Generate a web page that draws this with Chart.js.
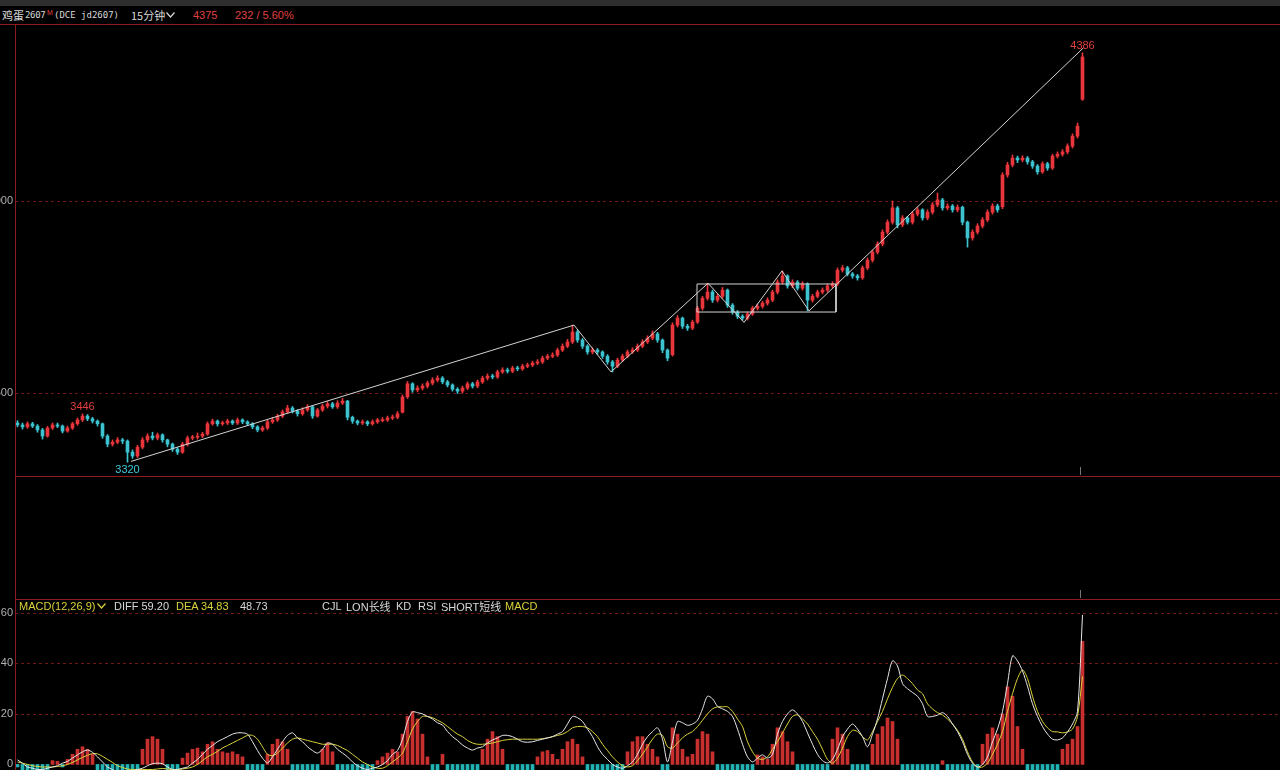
<!DOCTYPE html>
<html><head><meta charset="utf-8">
<script src="https://cdn.jsdelivr.net/npm/chart.js@4.4.1/dist/chart.umd.min.js"></script>
<style>
html,body{margin:0;padding:0;background:#000;width:1280px;height:770px;overflow:hidden;font-family:'Liberation Sans','Noto Sans CJK SC',sans-serif;}
.t{position:absolute;font-size:11px;line-height:12px;white-space:nowrap;color:#d8d8d8}
.ln{position:absolute;background:#8e1c1c}
canvas{position:absolute;left:0}
</style></head><body>
<div style="position:absolute;left:0;top:0;width:1280px;height:6px;background:#2e2e2e"></div>
<span class="t" style="left:2px;top:9px;font-family:'Noto Sans CJK SC';font-size:11px">鸡蛋</span>
<span class="t" style="left:25px;top:9px;font-family:'DejaVu Sans Mono';font-size:9px;letter-spacing:-0.3px">2607</span>
<span class="t" style="left:47px;top:7px;font-size:7px;color:#e04040">M</span>
<span class="t" style="left:54px;top:9px;font-family:'DejaVu Sans Mono';font-size:9px">(DCE jd2607)</span>
<span class="t" style="left:131px;top:9px;font-family:'Noto Sans CJK SC'">15分钟</span>
<svg style="position:absolute;left:166px;top:12px" width="9" height="6"><polyline points="0.5,0.5 4.5,5 8.5,0.5" fill="none" stroke="#d8d8d8" stroke-width="1.2"/></svg>
<span class="t" style="left:193px;top:9px;color:#e04040">4375</span>
<span class="t" style="left:235px;top:9px;color:#e04040">232 / 5.60%</span>

<canvas id="main" width="1280" height="452" style="top:24px"></canvas>
<canvas id="macd" width="1280" height="171" style="top:599px"></canvas>

<div class="ln" style="left:0;top:24px;width:1280px;height:1px"></div>
<div class="ln" style="left:15px;top:24px;width:1px;height:746px"></div>
<div class="ln" style="left:15px;top:476px;width:1265px;height:1px"></div>
<div class="ln" style="left:15px;top:599px;width:1265px;height:1px"></div>
<div style="position:absolute;left:1080px;top:467px;width:1px;height:8px;background:#777"></div>
<div style="position:absolute;left:1080px;top:590px;width:1px;height:8px;background:#777"></div>

<span class="t" style="left:19px;top:600px;color:#d8d23c">MACD(12,26,9)</span>
<svg style="position:absolute;left:97px;top:603px" width="9" height="6"><polyline points="0.5,0.5 4.5,5 8.5,0.5" fill="none" stroke="#d8d23c" stroke-width="1.2"/></svg>
<span class="t" style="left:114px;top:600px">DIFF 59.20</span>
<span class="t" style="left:176px;top:600px;color:#d8d23c">DEA 34.83</span>
<span class="t" style="left:240px;top:600px">48.73</span>
<span class="t" style="left:322px;top:600px">CJL</span>
<span class="t" style="left:346px;top:600px">LON<span style="font-family:'Noto Sans CJK SC'">长线</span></span>
<span class="t" style="left:396px;top:600px">KD</span>
<span class="t" style="left:418px;top:600px">RSI</span>
<span class="t" style="left:441px;top:600px">SHORT<span style="font-family:'Noto Sans CJK SC'">短线</span></span>
<span class="t" style="left:505px;top:600px;color:#d8d23c">MACD</span>

<script>
// ---------- data ----------
const OPEN = [3422,3417,3412,3420,3414,3404,3388,3409,3417,3414,
3401,3409,3420,3430,3440,3433,3427,3420,3388,3367,
3372,3378,3375,3346,3336,3359,3378,3388,3383,3391,
3378,3367,3354,3346,3367,3383,3385,3388,3393,3420,
3427,3420,3422,3427,3422,3430,3425,3420,3412,3404,
3409,3425,3430,3440,3451,3461,3453,3446,3456,3464,
3440,3456,3466,3472,3464,3474,3479,3437,3427,3422,
3425,3420,3425,3428,3430,3435,3437,3450,3490,3524,
3508,3513,3518,3526,3534,3539,3529,3521,3510,3505,
3513,3524,3518,3529,3539,3544,3542,3555,3560,3557,
3565,3563,3570,3573,3578,3581,3591,3596,3599,3612,
3622,3633,3659,3638,3622,3607,3612,3607,3596,3581,
3570,3586,3596,3607,3612,3622,3633,3643,3654,3638,
3612,3600,3677,3695,3674,3669,3685,3721,3747,3763,
3742,3752,3768,3729,3711,3700,3695,3706,3721,3726,
3734,3742,3763,3789,3805,3779,3789,3773,3784,3742,
3752,3763,3768,3779,3784,3820,3826,3810,3805,3800,
3826,3846,3867,3888,3919,3945,3982,3938,3956,3945,
3966,3977,3956,3971,3990,4003,3982,3987,3977,3984,
3945,3904,3919,3935,3951,3971,3987,3985,4068,4094,
4112,4107,4112,4102,4091,4076,4097,4086,4117,4122,
4128,4143,4169,4265];
const HIGH = [3428,3422,3425,3424,3418,3408,3413,3422,3422,3417,
3414,3424,3435,3446,3444,3437,3430,3422,3392,3378,
3384,3382,3378,3352,3364,3384,3394,3398,3396,3394,
3380,3370,3358,3372,3388,3390,3396,3398,3425,3432,
3430,3427,3432,3430,3435,3433,3428,3423,3415,3414,
3429,3436,3445,3456,3468,3465,3457,3462,3470,3467,
3460,3471,3478,3476,3480,3486,3481,3440,3430,3430,
3428,3430,3434,3436,3440,3443,3452,3495,3530,3527,
3519,3524,3531,3540,3545,3543,3533,3524,3514,3518,
3529,3528,3534,3544,3550,3549,3560,3566,3565,3570,
3570,3575,3578,3583,3587,3596,3601,3605,3617,3628,
3640,3677,3664,3642,3626,3618,3616,3610,3600,3585,
3591,3601,3612,3618,3628,3639,3649,3662,3658,3641,
3615,3683,3702,3698,3679,3690,3726,3752,3786,3768,
3758,3775,3771,3733,3715,3704,3711,3726,3732,3739,
3748,3768,3795,3818,3808,3795,3793,3790,3787,3757,
3768,3774,3784,3790,3826,3832,3830,3814,3809,3831,
3852,3872,3894,3925,3951,4000,3986,3962,3960,3972,
3983,3980,3977,3996,4021,4007,3993,3991,3990,3987,
3948,3925,3941,3957,3977,3993,3992,4074,4101,4120,
4117,4118,4116,4106,4095,4102,4101,4122,4128,4134,
4149,4175,4203,4386];
const LOW = [3412,3406,3408,3410,3398,3380,3385,3405,3410,3396,
3398,3405,3416,3426,3428,3422,3414,3382,3360,3362,
3368,3368,3320,3330,3332,3355,3372,3378,3378,3372,
3360,3348,3340,3343,3362,3378,3380,3384,3390,3416,
3414,3416,3418,3418,3418,3420,3415,3407,3399,3400,
3405,3421,3426,3436,3447,3448,3440,3442,3452,3434,
3437,3452,3461,3460,3460,3470,3430,3421,3417,3418,
3415,3416,3421,3425,3426,3431,3433,3448,3486,3502,
3503,3508,3513,3521,3529,3524,3516,3505,3499,3500,
3509,3513,3514,3525,3534,3537,3538,3551,3552,3553,
3558,3559,3566,3569,3574,3577,3587,3592,3595,3608,
3618,3629,3632,3616,3601,3602,3601,3590,3575,3555,
3566,3582,3592,3603,3608,3618,3629,3639,3632,3605,
3584,3596,3672,3668,3663,3665,3681,3716,3742,3736,
3737,3747,3723,3705,3694,3690,3690,3702,3716,3721,
3729,3738,3758,3784,3773,3774,3768,3768,3714,3737,
3748,3758,3763,3774,3780,3815,3805,3799,3794,3796,
3821,3841,3862,3883,3914,3940,3930,3933,3940,3940,
3961,3950,3951,3966,3985,3976,3977,3971,3972,3938,
3880,3898,3914,3930,3946,3966,3971,3980,4062,4089,
4100,4102,4096,4085,4070,4072,4080,4082,4112,4117,
4123,4138,4164,4262];
const CLOSE = [3417,3412,3420,3414,3404,3388,3409,3417,3414,3401,
3409,3420,3430,3440,3433,3427,3420,3388,3367,3372,
3378,3375,3346,3336,3359,3378,3388,3383,3391,3378,
3367,3354,3346,3367,3383,3385,3388,3393,3420,3427,
3420,3422,3427,3422,3430,3425,3420,3412,3404,3409,
3425,3430,3440,3451,3461,3453,3446,3456,3464,3440,
3456,3466,3472,3464,3474,3479,3437,3427,3422,3425,
3420,3425,3430,3430,3435,3437,3446,3490,3524,3508,
3513,3518,3526,3534,3539,3529,3521,3510,3505,3513,
3524,3518,3529,3539,3544,3542,3555,3560,3557,3565,
3563,3570,3573,3578,3581,3591,3596,3599,3612,3622,
3633,3659,3638,3622,3607,3612,3607,3596,3581,3570,
3586,3596,3607,3612,3622,3633,3643,3654,3638,3612,
3591,3677,3695,3674,3669,3685,3721,3747,3763,3742,
3752,3768,3729,3711,3700,3695,3706,3721,3726,3734,
3742,3763,3789,3805,3779,3789,3773,3784,3742,3752,
3763,3768,3779,3784,3820,3826,3810,3805,3800,3826,
3846,3867,3888,3919,3945,3982,3938,3956,3945,3966,
3977,3956,3971,3990,4003,3982,3987,3977,3984,3945,
3904,3919,3935,3951,3971,3987,3977,4068,4094,4112,
4107,4112,4102,4091,4076,4097,4086,4117,4122,4128,
4143,4169,4195,4375];

const DIFF = [1.8,0.5,-1,-1.5,-2,-2,-1.5,-1,-0.5,0.5,
1.2,2.5,3.8,5,5.7,4.8,3,1,-1,-2,
-3,-3,-3,-2.5,-2,-1.5,-0.5,0.3,0.5,0.3,
-1,-2,-2,-1.5,-1,0.5,2,4,6,7.5,
9,10,11,12,12.5,12.5,12,9,5.5,2.5,
0.6,3,6,9,11.5,12.5,10.5,9,7,5.5,
4.5,6,8.5,8,6,4.5,3,1,-0.5,-1.5,
-2,-1.5,-1,0,1.5,4,5.5,10,17,20.8,
20.5,20,19,18,16.5,15.6,13,11,9.5,7.7,
6.5,5.7,6.5,7,8.5,9.7,10.5,11.5,11.5,11,
10,9,8.8,9,9.5,10,10.5,11,12,13,
16,19,18.5,17,14,11,7,4,2,0,
-1,-1.5,-0.5,1,4,8,11,13,14.5,10,
1,9,17,16.5,15.5,16,17.5,22,27,26,
23,22,21,19,14,8,3,1,2.5,3.8,
2.5,4,12,17,20,21.6,20,17,12.5,8,
4,1.5,0.6,2,6,11,14,16,14,11,
7,12,18,26,34,41,39,32,30,28.5,
27,24,19,19,19.5,20.5,19,16,13,9,
4,0.5,-1,0,3,9,14,21,32,43,
41,37,31,24,19,15,12,10,9.7,10.5,
12.9,16,21,59.2];
const DEA = [1,0.5,0,-0.5,-0.8,-1,-1,-1,-0.8,-0.5,
0,0.8,1.8,2.8,3.6,4.3,4.2,3.2,2,0.8,
-0.5,-1.2,-1.8,-2,-2,-2,-2,-2,-1.8,-1.6,
-1.8,-2,-2,-1.8,-1.5,-1,0,1.5,3,4,
5.2,6.5,7.5,8.5,9.5,10.5,11.5,11.5,10,7,
4,3.5,4.5,6.5,8.5,10,10.5,10,9.5,9,
8.5,8,8,8,7.5,6.5,5.5,4,2.5,1,
0,-1,-1.5,-1.5,-0.5,1,2.5,4.5,9,14,
17,19,19,18.5,17.5,16.5,15,13.5,12,11,
9.5,8.5,8,8,8.2,8.5,9,9.5,9.8,10,
10,10,10,10,10,10.2,10.5,11,11.5,12,
13,14.5,15,15,14.5,13,11,8,5.5,3,
1,-0.5,-1,-0.5,1.5,4,7,10,12,11.5,
7,6.5,8.5,10.5,12,13,15,17.5,20,22,
22.8,22.8,22.8,21,18,15,9,5,2.5,2,
3,6,9,12.5,16,19,19.6,18,16,13,
10,6,2,0.5,2.5,6.5,11,13.5,13,11,
9.7,13,17,21,26,30.5,34,35.4,34,32,
29.5,28,24,22,20.5,19.6,18,16,13.5,10,
5,1,-1,-1,0.5,4,8,13,21,28,
34,37.4,34,27,21,17,14.5,13,12.9,12.5,
12.9,14,19,34.83];
const MACD_HIST = [-1,-2.5,-2.5,-2.5,-2.5,-2.5,-2.5,1.5,1.2,-1,
2,4,6,7,6,4,-2.5,-2.5,-2.5,-2.5,
-2.5,-2.5,-2.5,-2.5,-2.5,6,10,11,10,6,
-2.5,-2.5,-2.5,2.5,4.5,6,6.5,5,8,9,
6,5,4.5,5,4,3,-2.5,-2.5,-2.5,-2.5,
4,8,10,9,6,-2.5,-2.5,-2.5,-2.5,-2.5,
-2.5,6,8.5,5,-2.5,-2.5,-2.5,-2.5,-2.5,-2.5,
-2.5,-2.5,1.5,3,4.5,6,5,12,19,21,
18,12,3,-2.5,-2.5,4,-2.5,-2.5,-2.5,-2.5,
-2.5,-2.5,-2.5,6,10,13,11,6,-2.5,-2.5,
-2.5,-2.5,-2.5,-2.5,3,5,5.5,4,2,6,
9,10,8,3,-2.5,-2.5,-2.5,-2.5,-2.5,-2.5,
-2.5,-2.5,5,9,11,11,8,6,3,-2.5,
-2.5,14.5,12,6,3,4,10,13,12,5,
-2.5,-2.5,-2.5,-2.5,-2.5,-2.5,-2.5,-2.5,3.8,3,
2,8,14.5,13,9,5,-2.5,-2.5,-2.5,-2.5,
-2.5,-2.5,-2.5,10,14.5,12,6,-2.5,-2.5,-2.5,
-2.5,8,12,15,18.4,17,10,-2.5,-2.5,-2.5,
-2.5,-2.5,-2.5,-2.5,-2.5,1.5,-2.5,-2.5,-2.5,-2.5,
-2.5,-2.5,-2.5,8,12,14.5,12,20,30.7,27,
15,6,-2.5,-2.5,-2.5,-2.5,-2.5,-2.5,-2.5,6,
8,10,15,48.73];

// drawn trend lines (bar index, price)
const TREND_LINE = [[22.7,3322],[111.3,3677],[118.7,3555],[138.1,3786],[145.3,3684],[152.9,3818],[158.3,3714],[213.1,4398]];
const BOX = [[135.9,3784],[163.7,3784],[163.7,3711],[135.9,3711],[135.9,3784]];
// marked extremes: [bar index, which price, colour key]
const MARKS = [[13,'high','up'],[22,'low','down'],[213,'high','up']];

const PRICE_TICKS = [3500,4000];
const PRICE_RANGE = [3284,4461];
const MACD_GRID = [20,40,60];
const MACD_TICKS = [0,20,40,60];
const MACD_RANGE = [-2.2,65.5];
const SLOTS = 253;

// ---------- styles ----------
const UP = '#e8363c', DOWN = '#3cc3cf';
const HUP = '#c8302f', HDOWN = '#22b3b5';
const GRID = '#6e1818';

const gridPlugin = {
  id: 'gridlab',
  beforeDatasetsDraw(chart, args, o) {
    const {ctx, chartArea: a, scales: {y}} = chart;
    ctx.save();
    ctx.strokeStyle = GRID; ctx.lineWidth = 1; ctx.setLineDash([3, 3]);
    for (const v of o.grid) {
      const py = Math.round(y.getPixelForValue(v)) + 0.5;
      ctx.beginPath(); ctx.moveTo(a.left, py); ctx.lineTo(a.right, py); ctx.stroke();
    }
    ctx.setLineDash([]);
    ctx.font = '11px "Liberation Sans"'; ctx.fillStyle = '#b0b0b0';
    ctx.textAlign = 'right'; ctx.textBaseline = 'middle';
    for (const v of o.labels) ctx.fillText(String(v), a.left - 2, Math.round(y.getPixelForValue(v)));
    ctx.restore();
  }
};
const markPlugin = {
  id: 'marks',
  afterDatasetsDraw(chart) {
    const {ctx, scales: {x, y}} = chart;
    ctx.save();
    ctx.font = '11px "Liberation Sans"'; ctx.textAlign = 'center'; ctx.textBaseline = 'middle';
    for (const [i, kind, col] of MARKS) {
      const v = kind === 'high' ? HIGH[i] : LOW[i];
      ctx.fillStyle = col === 'up' ? '#e04040' : '#40c8d8';
      const py = y.getPixelForValue(v) + (kind === 'high' ? -7 : 8);
      ctx.fillText(String(v), x.getPixelForValue(i), py);
    }
    ctx.restore();
  }
};

const IDX = CLOSE.map((_, i) => i);
const xScale = {type: 'linear', min: -0.5, max: SLOTS - 0.5, display: false, offset: false};
const common = {
  responsive: false, animation: false, devicePixelRatio: 1, events: [],
  layout: {padding: {left: 15, right: 0, top: 0, bottom: 0}},
};

new Chart(document.getElementById('main'), {
  type: 'bar',
  data: {datasets: [
    {type: 'line', data: TREND_LINE.map(([x, y]) => ({x, y})), borderColor: '#d4d4d4', borderWidth: 1, pointRadius: 0, tension: 0, order: 0},
    {type: 'line', data: BOX.map(([x, y]) => ({x, y})), borderColor: '#d4d4d4', borderWidth: 1, pointRadius: 0, tension: 0, order: 0},
    {data: IDX.map(i => ({x: i, y: [Math.min(OPEN[i], CLOSE[i]), Math.max(OPEN[i], CLOSE[i])]})),
     backgroundColor: IDX.map(i => CLOSE[i] >= OPEN[i] ? UP : DOWN), barThickness: 3, minBarLength: 1, grouped: false, order: 1},
    {data: IDX.map(i => ({x: i, y: [LOW[i], HIGH[i]]})),
     backgroundColor: IDX.map(i => CLOSE[i] >= OPEN[i] ? UP : DOWN), barThickness: 1, grouped: false, order: 2},
  ]},
  options: Object.assign({}, common, {
    scales: {x: xScale, y: {type: 'linear', min: PRICE_RANGE[0], max: PRICE_RANGE[1], display: false}},
    plugins: {legend: {display: false}, tooltip: {enabled: false}, gridlab: {grid: PRICE_TICKS, labels: PRICE_TICKS}},
  }),
  plugins: [gridPlugin, markPlugin]
});

new Chart(document.getElementById('macd'), {
  type: 'bar',
  data: {datasets: [
    {type: 'line', data: IDX.map(i => ({x: i, y: DIFF[i]})), borderColor: '#e6e6e6', borderWidth: 1, pointRadius: 0, tension: 0.3, order: 0},
    {type: 'line', data: IDX.map(i => ({x: i, y: DEA[i]})), borderColor: '#d8d23c', borderWidth: 1, pointRadius: 0, tension: 0.3, order: 1},
    {data: IDX.map(i => ({x: i, y: MACD_HIST[i]})), backgroundColor: IDX.map(i => MACD_HIST[i] >= 0 ? HUP : HDOWN),
     barThickness: 3, grouped: false, order: 2},
  ]},
  options: Object.assign({}, common, {
    scales: {x: xScale, y: {type: 'linear', min: MACD_RANGE[0], max: MACD_RANGE[1], display: false}},
    plugins: {legend: {display: false}, tooltip: {enabled: false}, gridlab: {grid: MACD_GRID, labels: MACD_TICKS}},
  }),
  plugins: [gridPlugin]
});
</script>
</body></html>
